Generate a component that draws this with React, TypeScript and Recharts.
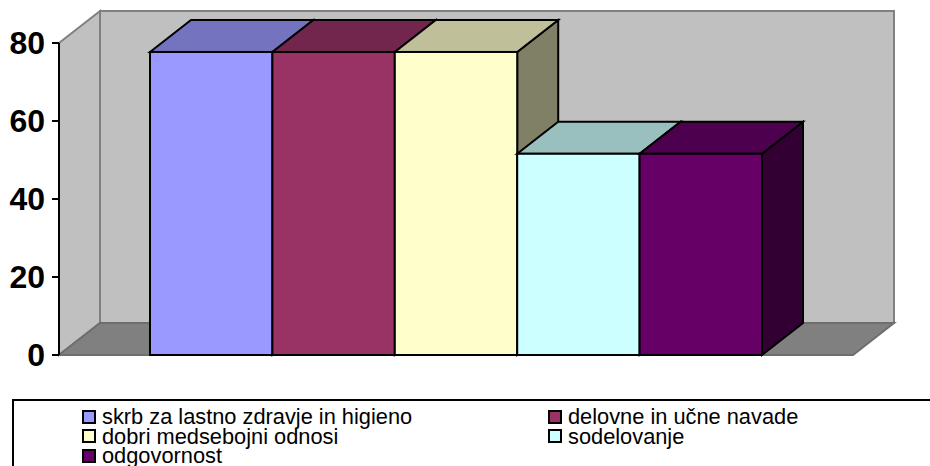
import { BarChart, Bar, XAxis, YAxis, Legend, ReferenceArea } from "recharts";

const categories = [""];
const seriesNames = [
  "skrb za lastno zdravje in higieno",
  "delovne in učne navade",
  "dobri medsebojni odnosi",
  "sodelovanje",
  "odgovornost",
];
const seriesValues = [77.7, 77.7, 77.7, 51.6, 51.6];
const seriesColors = ["#9999FF", "#993366", "#FFFFCC", "#CCFFFF", "#660066"];
const yTicks = [0, 20, 40, 60, 80];

const data = categories.map((cat) => {
  const row: Record<string, string | number> = { cat };
  seriesNames.forEach((name, i) => {
    row[name] = seriesValues[i];
  });
  return row;
});

// offset of the back plane from the front plane
const DX = 41;
const DY = -32;
const FONT = "'Liberation Sans', Arial, sans-serif";

function shade(hex: string, k: number) {
  const n = parseInt(hex.slice(1), 16);
  const c = (v: number) => Math.round(v * k);
  return `rgb(${c((n >> 16) & 255)},${c((n >> 8) & 255)},${c(n & 255)})`;
}

function Walls(props: any) {
  const { x, y, width, height } = props;
  const b = y + height;
  const r = x + width;
  return (
    <g strokeWidth={2} strokeLinejoin="miter">
      <rect x={x + DX} y={y + DY} width={width} height={height} fill="#C0C0C0" stroke="#808080" />
      <polygon
        points={`${x},${y} ${x + DX},${y + DY} ${x + DX},${b + DY} ${x},${b}`}
        fill="#C0C0C0"
        stroke="#808080"
      />
      <polygon
        points={`${x},${b} ${r},${b} ${r + DX},${b + DY} ${x + DX},${b + DY}`}
        fill="#808080"
        stroke="#6e6e6e"
      />
    </g>
  );
}

function Box3D(props: any) {
  const { x, y, width, height, fill } = props;
  const r = x + width;
  const b = y + height;
  return (
    <g stroke="#000" strokeWidth={2} strokeLinejoin="miter">
      <polygon
        points={`${r},${y} ${r + DX},${y + DY} ${r + DX},${b + DY} ${r},${b}`}
        fill={shade(fill, 0.5)}
      />
      <polygon
        points={`${x},${y} ${x + DX},${y + DY} ${r + DX},${y + DY} ${r},${y}`}
        fill={shade(fill, 0.75)}
      />
      <rect x={x} y={y} width={width} height={height} fill={fill} />
    </g>
  );
}

function LegendBox(props: any) {
  const items = props.payload || [];
  return (
    <div
      style={{
        boxSizing: "border-box",
        height: 67,
        borderTop: "2px solid #000",
        borderLeft: "2px solid #000",
        paddingTop: 6,
        paddingLeft: 68,
        display: "grid",
        gridTemplateColumns: "466px 1fr",
        gridAutoRows: "19.5px",
        fontFamily: FONT,
        fontSize: 21.8,
        lineHeight: "19.5px",
        color: "#000",
      }}
    >
      {items.map((it: any) => (
        <div key={it.value} style={{ display: "flex", alignItems: "center", whiteSpace: "nowrap" }}>
          <span
            style={{
              boxSizing: "border-box",
              width: 14,
              height: 14,
              marginRight: 6,
              background: it.color,
              border: "2px solid #000",
            }}
          />
          {it.value}
        </div>
      ))}
    </div>
  );
}

export default function App() {
  return (
    <div style={{ position: "absolute", left: 0, top: 0, width: 930, height: 466, overflow: "hidden", background: "#fff" }}>
      <BarChart
        width={930}
        height={466}
        data={data}
        margin={{ top: 43, right: 77, bottom: 111, left: 0 }}
        barCategoryGap={91}
        barGap={0}
        barSize={122.4}
      >
        <ReferenceArea y1={0} y2={80} shape={<Walls />} ifOverflow="visible" />
        <XAxis dataKey="cat" height={0} tick={false} tickLine={false} axisLine={{ stroke: "#000", strokeWidth: 2 }} />
        <YAxis
          width={59}
          domain={[0, 80]}
          ticks={yTicks}
          interval={0}
          tickSize={7}
          tickMargin={7}
          axisLine={{ stroke: "#000", strokeWidth: 2 }}
          tickLine={{ stroke: "#000", strokeWidth: 2 }}
          tick={{ fill: "#000", fontFamily: FONT, fontSize: 32, fontWeight: 700 }}
        />
        {seriesNames.map((name, i) => (
          <Bar key={name} dataKey={name} fill={seriesColors[i]} shape={<Box3D />} isAnimationActive={false} />
        ))}
        <Legend
          layout="horizontal"
          verticalAlign="middle"
          align="center"
          itemSorter={null}
          content={<LegendBox />}
          wrapperStyle={{ left: 12, top: 399, width: 918, height: 67 }}
        />
      </BarChart>
    </div>
  );
}
